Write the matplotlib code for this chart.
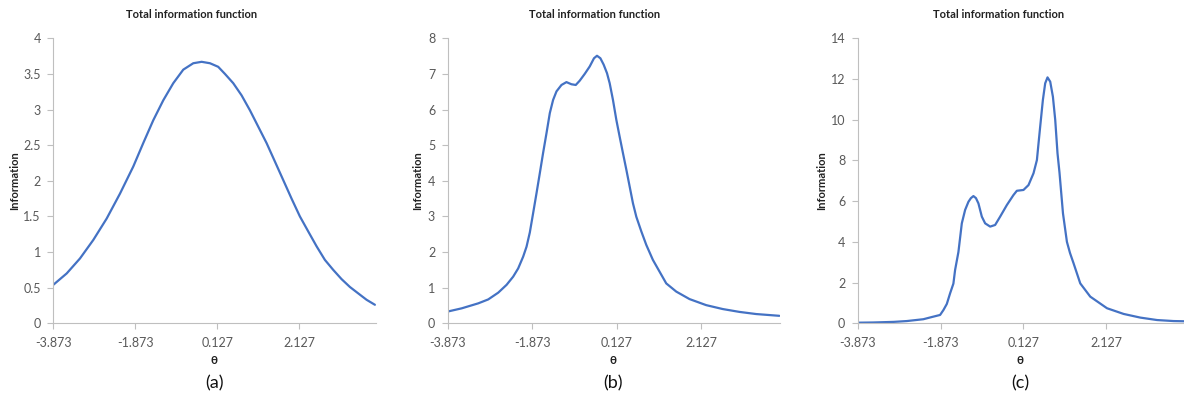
import matplotlib
matplotlib.use("Agg")
import matplotlib.pyplot as plt

plt.rcParams['font.family'] = ['Lato', 'DejaVu Sans']

# ---- data ----
theta_a = [-3.873, -3.546, -3.222, -2.897, -2.571, -2.246, -1.922, -1.678, -1.434, -1.19,
           -0.946, -0.702, -0.458, -0.254, -0.051, 0.15, 0.315, 0.517, 0.72, 0.924,
           1.127, 1.33, 1.534, 1.737, 1.94, 2.143, 2.346, 2.551, 2.753, 2.956,
           3.16, 3.363, 3.566, 3.77, 3.973]
info_a = [0.54, 0.70, 0.91, 1.17, 1.47, 1.82, 2.20, 2.53, 2.85, 3.13,
          3.37, 3.56, 3.65, 3.67, 3.65, 3.60, 3.50, 3.37, 3.20, 2.99,
          2.76, 2.53, 2.27, 2.01, 1.75, 1.50, 1.29, 1.08, 0.89, 0.75,
          0.62, 0.51, 0.42, 0.33, 0.26]

theta_b = [-3.873, -3.542, -3.15, -2.914, -2.677, -2.479, -2.323, -2.205, -2.087, -2.007,
           -1.929, -1.851, -1.771, -1.693, -1.615, -1.534, -1.456, -1.378, -1.298, -1.18,
           -1.062, -0.944, -0.842, -0.748, -0.63, -0.511, -0.41, -0.339, -0.259, -0.181,
           -0.102, -0.039, 0.039, 0.119, 0.197, 0.275, 0.356, 0.434, 0.512, 0.592,
           0.71, 0.828, 0.984, 1.142, 1.30, 1.537, 1.851, 2.245, 2.638, 3.032,
           3.427, 3.977]
info_b = [0.33, 0.42, 0.56, 0.67, 0.86, 1.08, 1.31, 1.54, 1.87, 2.15,
          2.55, 3.09, 3.65, 4.21, 4.78, 5.34, 5.90, 6.27, 6.51, 6.69,
          6.77, 6.71, 6.69, 6.81, 7.00, 7.21, 7.44, 7.51, 7.44, 7.26,
          7.02, 6.74, 6.27, 5.71, 5.24, 4.78, 4.31, 3.84, 3.37, 2.99,
          2.58, 2.20, 1.78, 1.45, 1.12, 0.89, 0.68, 0.51, 0.40, 0.32,
          0.26, 0.21]

theta_c = [-3.873, -3.5, -3.0, -2.69, -2.29, -2.1, -1.885, -1.805, -1.723, -1.644,
           -1.564, -1.523, -1.443, -1.361, -1.281, -1.201, -1.141, -1.081, -1.02, -0.96,
           -0.878, -0.798, -0.677, -0.557, -0.436, -0.274, -0.115, -0.033, 0.127, 0.248,
           0.369, 0.451, 0.49, 0.53, 0.595, 0.651, 0.707, 0.772, 0.837, 0.893,
           0.948, 0.996, 1.08, 1.175, 1.25, 1.335, 1.497, 1.738, 2.142, 2.543,
           2.946, 3.35, 3.75, 4.0]
info_c = [0.03, 0.04, 0.07, 0.11, 0.20, 0.30, 0.41, 0.65, 0.95, 1.47,
          1.95, 2.62, 3.50, 4.91, 5.57, 5.97, 6.15, 6.25, 6.15, 5.89,
          5.24, 4.91, 4.75, 4.83, 5.24, 5.81, 6.30, 6.51, 6.55, 6.79,
          7.37, 8.02, 8.84, 9.66, 10.97, 11.79, 12.08, 11.87, 11.13, 9.99,
          8.35, 7.40, 5.40, 4.00, 3.45, 2.95, 1.96, 1.31, 0.74, 0.46,
          0.28, 0.16, 0.11, 0.10]

xtick_vals = [-3.873, -1.873, 0.127, 2.127]
xtick_labels = ["-3.873", "-1.873", "0.127", "2.127"]

yticks_a = [0, 0.5, 1, 1.5, 2, 2.5, 3, 3.5, 4]
yticks_b = [0, 1, 2, 3, 4, 5, 6, 7, 8]
yticks_c = [0, 2, 4, 6, 8, 10, 12, 14]
ylabels_a = ["0", "0.5", "1", "1.5", "2", "2.5", "3", "3.5", "4"]

title_text = "Total information function"
ylabel_text = "Information"
xlabel_text = "θ"
panel_labels = ["(a)", "(b)", "(c)"]

W, H = 1184, 398
fig = plt.figure(figsize=(W / 100, H / 100), dpi=100)

line_color = "#4472C4"
spine_color = "#BFBFBF"
text_color = "#595959"

panels = [
    dict(theta=theta_a, info=info_a, yticks=yticks_a, ylabels=ylabels_a, ymax=4,
         left=53.3, right=376.0, title_x=192, ylab_x=15, lab_x=214),
    dict(theta=theta_b, info=info_b, yticks=yticks_b, ylabels=[str(v) for v in yticks_b], ymax=8,
         left=447.7, right=780.3, title_x=595, ylab_x=418, lab_x=613),
    dict(theta=theta_c, info=info_c, yticks=yticks_c, ylabels=[str(v) for v in yticks_c], ymax=14,
         left=857.7, right=1184.0, title_x=999, ylab_x=822, lab_x=1020),
]

top_px, bottom_px = 38.3, 323.3
for p, plab in zip(panels, panel_labels):
    ax = fig.add_axes([p['left'] / W, 1 - bottom_px / H,
                       (p['right'] - p['left']) / W, (bottom_px - top_px) / H])
    ax.plot(p['theta'], p['info'], color=line_color, lw=1.6,
            solid_joinstyle='round', solid_capstyle='round')
    ax.set_xlim(-3.873, 4.0)
    ax.set_ylim(0, p['ymax'])
    ax.set_xticks(xtick_vals)
    ax.set_xticklabels(xtick_labels)
    ax.set_yticks(p['yticks'])
    ax.set_yticklabels(p['ylabels'])
    for s in ['top', 'right']:
        ax.spines[s].set_visible(False)
    for s in ['left', 'bottom']:
        ax.spines[s].set_color(spine_color)
        ax.spines[s].set_linewidth(0.8)
    ax.tick_params(axis='both', direction='out', length=4, width=0.8, color=spine_color,
                   labelsize=9, labelcolor=text_color)
    ax.tick_params(axis='x', pad=6)
    ax.tick_params(axis='y', pad=5)
    ax.patch.set_alpha(0)

    fig.text(p['title_x'] / W, 1 - 15 / H, title_text, ha='center', va='center',
             fontsize=8, fontweight='bold', color='#222222')
    fig.text(p['ylab_x'] / W, 1 - 181 / H, ylabel_text, ha='center', va='center',
             rotation=90, fontsize=8, fontweight='bold', color='#222222')
    fig.text(p['lab_x'] / W, 1 - 360 / H, xlabel_text, ha='center', va='center',
             fontsize=8.5, fontweight='bold', color='#222222')
    fig.text(p['lab_x'] / W, 1 - 383 / H, plab, ha='center', va='center',
             fontsize=13, color='#111111')

fig.savefig("out.png", dpi=100)
